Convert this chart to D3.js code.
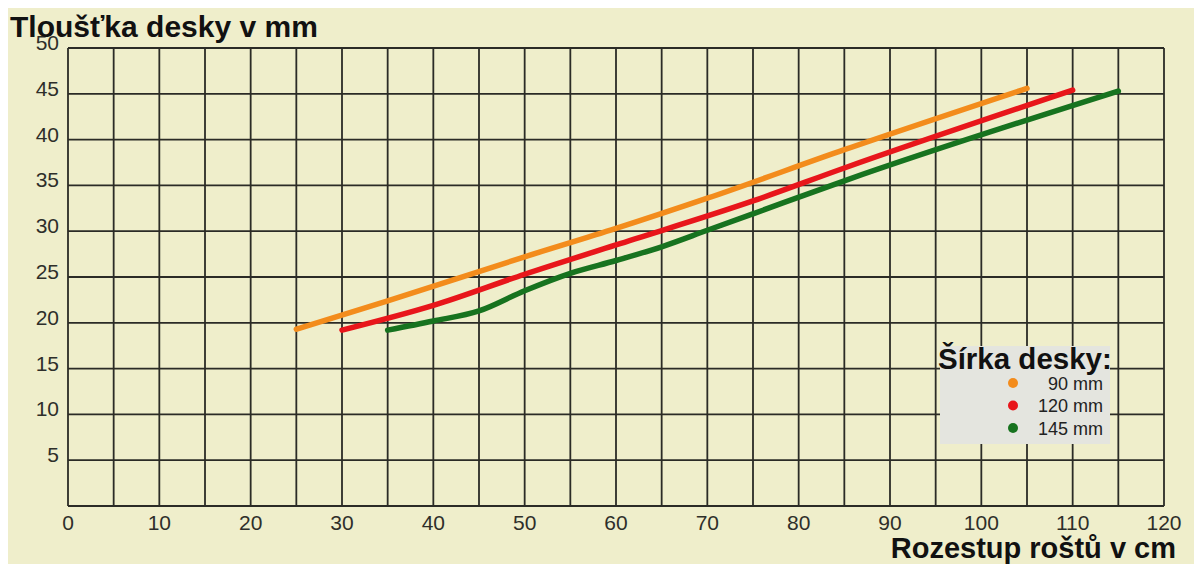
<!DOCTYPE html>
<html>
    <head>
        <meta charset="utf-8">
        <script src="https://d3js.org/d3.v7.min.js"></script>
        <style>
            body { margin: 0; background: #ffffff; }
            svg text { font-family: "Liberation Sans", Arial, sans-serif; }
        </style>
    </head>
    <body>
        <div id="graph"></div>
    </body>
</html>

<script>
    // values
    var xTickLabels = [0, 10, 20, 30, 40, 50, 60, 70, 80, 90, 100, 110, 120];
    var yTickLabels = [5, 10, 15, 20, 25, 30, 35, 40, 45, 50];
    var seriesNames = ["90 mm", "120 mm", "145 mm"];
    var seriesColors = ["#f38c1c", "#e8161b", "#17731f"];

    // rozestup (cm) / tloušťka (mm)
    var spacing90 = [25, 35, 50, 60, 70, 85, 105];
    var thick90 = [19.3, 22.4, 27.2, 30.3, 33.6, 38.9, 45.6];
    var spacing120 = [30, 40, 50, 60, 75, 85, 110];
    var thick120 = [19.2, 21.9, 25.3, 28.5, 33.3, 36.9, 45.4];
    var spacing145 = [35, 40, 45, 50, 55, 60, 65, 70, 75, 85, 115];
    var thick145 = [19.2, 20.2, 21.3, 23.5, 25.4, 26.8, 28.3, 30.1, 31.9, 35.5, 45.3];

    var W = 1194, H = 564;
    var margin = {top: 48, right: 30, bottom: 58, left: 68},
        width = W - margin.left - margin.right,
        height = H - margin.top - margin.bottom;

    var root = d3.select("#graph")
        .append("svg")
        .attr("width", W)
        .attr("height", H);

    // beige paper
    root.append("rect")
        .attr("x", 8).attr("y", 8)
        .attr("width", W - 8).attr("height", H - 8)
        .attr("fill", "#efeecb");

    var svg = root.append("g")
        .attr("transform", "translate(" + margin.left + "," + margin.top + ")");

    var x = d3.scaleLinear().domain([0, 120]).range([0, width]);
    var y = d3.scaleLinear().domain([0, 50]).range([height, 0]);

    // grid every 5
    svg.append("g")
        .selectAll("line")
        .data(d3.range(0, 121, 5))
        .enter()
        .append("line")
            .attr("x1", d => x(d)).attr("x2", d => x(d))
            .attr("y1", 0).attr("y2", height)
            .attr("stroke", "#2b2b26")
            .attr("stroke-width", 1.8);

    svg.append("g")
        .selectAll("line")
        .data(d3.range(0, 51, 5))
        .enter()
        .append("line")
            .attr("x1", 0).attr("x2", width)
            .attr("y1", d => y(d)).attr("y2", d => y(d))
            .attr("stroke", "#2b2b26")
            .attr("stroke-width", 1.8);

    // tick labels
    svg.append("g")
        .selectAll("text")
        .data(xTickLabels)
        .enter()
        .append("text")
            .attr("x", d => x(d))
            .attr("y", height + 24)
            .attr("text-anchor", "middle")
            .attr("font-size", 21)
            .attr("fill", "#2e2e2a")
            .text(d => d);

    svg.append("g")
        .selectAll("text")
        .data(yTickLabels)
        .enter()
        .append("text")
            .attr("x", -9)
            .attr("y", d => y(d) + 2)
            .attr("text-anchor", "end")
            .attr("font-size", 21)
            .attr("fill", "#2e2e2a")
            .text(d => d);

    // axis titles
    root.append("text")
        .attr("x", 10)
        .attr("y", 37)
        .attr("font-size", 30)
        .attr("font-weight", "bold")
        .attr("fill", "#111")
        .text("Tloušťka desky v mm");

    root.append("text")
        .attr("x", 1176)
        .attr("y", 558)
        .attr("text-anchor", "end")
        .attr("font-size", 29)
        .attr("font-weight", "bold")
        .attr("fill", "#111")
        .text("Rozestup roštů v cm");

    // lines
    var series = [
        {name: seriesNames[0], color: seriesColors[0], xs: spacing90, ys: thick90},
        {name: seriesNames[1], color: seriesColors[1], xs: spacing120, ys: thick120},
        {name: seriesNames[2], color: seriesColors[2], xs: spacing145, ys: thick145}
    ];

    var line = d3.line()
        .x(d => x(d[0]))
        .y(d => y(d[1]))
        .curve(d3.curveMonotoneX);

    svg.append("g")
        .selectAll("path")
        .data(series)
        .enter()
        .append("path")
            .attr("d", s => line(s.xs.map((v, i) => [v, s.ys[i]])))
            .attr("fill", "none")
            .attr("stroke", s => s.color)
            .attr("stroke-width", 5.5)
            .attr("stroke-linecap", "round");

    // legend
    var lg = root.append("g");
    lg.append("rect")
        .attr("x", 940).attr("y", 346)
        .attr("width", 170).attr("height", 98)
        .attr("fill", "#e4e5df");
    lg.append("text")
        .attr("x", 938)
        .attr("y", 369)
        .attr("font-size", 29.5)
        .attr("font-weight", "bold")
        .attr("fill", "#111")
        .text("Šírka desky:");

    var items = lg.selectAll(".item")
        .data(series)
        .enter()
        .append("g")
            .attr("transform", (d, i) => "translate(0," + (383 + i * 22.5) + ")");
    items.append("circle")
        .attr("cx", 1013).attr("cy", 0).attr("r", 5)
        .attr("fill", d => d.color);
    items.append("text")
        .attr("x", 1103)
        .attr("y", 6.5)
        .attr("text-anchor", "end")
        .attr("font-family", "'DejaVu Sans', sans-serif")
        .attr("font-size", 18)
        .attr("fill", "#222")
        .text(d => d.name);
</script>
